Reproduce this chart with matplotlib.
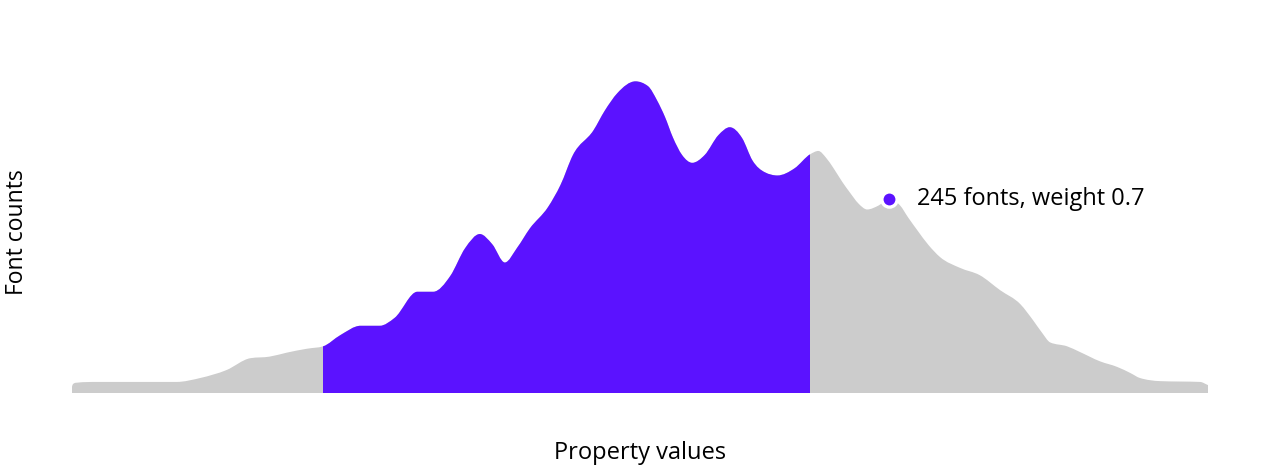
import matplotlib
matplotlib.use("Agg")
import matplotlib.pyplot as plt
from matplotlib.path import Path
from matplotlib.patches import PathPatch, Rectangle

plt.rcParams['font.family'] = ['Open Sans', 'DejaVu Sans']

GRAY = "#cccccc"
PURPLE = "#5b12ff"

# property value (0..1) and font count
weights = [0.000, 0.018, 0.051, 0.092, 0.113, 0.136, 0.157, 0.174, 0.189, 0.207,
           0.221, 0.236, 0.254, 0.271, 0.284, 0.304, 0.318, 0.333, 0.346, 0.359,
           0.370, 0.381, 0.392, 0.403, 0.419, 0.430, 0.441, 0.459, 0.469, 0.480,
           0.496, 0.507, 0.515, 0.522, 0.529, 0.537, 0.546, 0.557, 0.569, 0.579,
           0.590, 0.599, 0.610, 0.621, 0.636, 0.650, 0.657, 0.664, 0.670, 0.678,
           0.685, 0.692, 0.700, 0.710, 0.719, 0.729, 0.736, 0.744, 0.754, 0.764,
           0.782, 0.799, 0.817, 0.835, 0.846, 0.854, 0.861, 0.876, 0.887, 0.905,
           0.920, 0.932, 0.940, 0.958, 0.993, 1.000]
counts = [13, 14, 14, 14, 19, 29, 44, 46, 51, 56,
          59, 73, 85, 85, 95, 128, 128, 148, 183, 201,
          188, 165, 184, 208, 235, 263, 301, 332, 357, 379,
          394, 388, 370, 349, 323, 301, 291, 301, 326, 336,
          322, 294, 279, 275, 284, 302, 306, 297, 285, 267,
          253, 240, 232, 237, 245, 237, 222, 206, 187, 172,
          158, 149, 130, 112, 92, 76, 64, 59, 52, 40,
          33, 25, 19, 15, 14, 10]

sel_lo, sel_hi = 0.221, 0.650   # highlighted range
point_w, point_n = 0.719, 245    # hovered point
point_label = "245 fonts, weight 0.7"


def monotone_slopes(xs, ys):
    n = len(xs)
    d = [(ys[i + 1] - ys[i]) / (xs[i + 1] - xs[i]) for i in range(n - 1)]
    m = [d[0]] + [0.0] * (n - 2) + [d[-1]]
    for i in range(1, n - 1):
        if d[i - 1] * d[i] <= 0:
            m[i] = 0.0
        else:
            h0, h1 = xs[i] - xs[i - 1], xs[i + 1] - xs[i]
            p = (d[i - 1] * h1 + d[i] * h0) / (h0 + h1)
            m[i] = (1 if p > 0 else -1) * min(abs(p), 2 * abs(d[i - 1]), 2 * abs(d[i]))
    return m


def area_path(xs, ys):
    # smooth outline (monotone cubic like d3's curveMonotoneX), small rounded ends
    m = monotone_slopes(xs, ys)
    rx, ry = 0.004, 6
    verts = [(xs[0], 0), (xs[0], ys[0] - ry), (xs[0], ys[0]), (xs[0] + rx, ys[0])]
    codes = [Path.MOVETO, Path.LINETO, Path.CURVE3, Path.CURVE3]
    for i in range(len(xs) - 1):
        h = (xs[i + 1] - xs[i]) / 3
        verts += [(xs[i] + h, ys[i] + m[i] * h),
                  (xs[i + 1] - h, ys[i + 1] - m[i + 1] * h),
                  (xs[i + 1], ys[i + 1])]
        codes += [Path.CURVE4] * 3
    verts += [(xs[-1], ys[-1] - ry), (xs[-1], 0), (xs[0], 0)]
    codes += [Path.LINETO, Path.LINETO, Path.CLOSEPOLY]
    return Path(verts, codes)


fig = plt.figure(figsize=(12.8, 4.66), dpi=100)
ax = fig.add_axes([72 / 1280, 73 / 466, 1136 / 1280, 352 / 466])

shape = area_path(weights, counts)
ax.add_patch(PathPatch(shape, facecolor=GRAY, edgecolor="none"))
sel = PathPatch(shape, facecolor=PURPLE, edgecolor="none")
ax.add_patch(sel)
clip = Rectangle((sel_lo, 0), sel_hi - sel_lo, 1000, transform=ax.transData)
sel.set_clip_path(clip)

ax.scatter([point_w], [point_n], s=120, color=PURPLE, edgecolors="white",
           linewidths=2.4, zorder=5)
ax.annotate(point_label, (point_w, point_n), xytext=(20, 0), textcoords="offset points",
            va="center", ha="left", fontsize=17, color="black")

ax.set_xlim(0, 1)
ax.set_ylim(0, 445)
ax.axis("off")

fig.text(0.013, 0.502, "Font counts", rotation=90, va="center", ha="center", fontsize=16.5)
fig.text(0.5, 0.027, "Property values", va="center", ha="center", fontsize=17)

fig.savefig("out.png", dpi=100)
